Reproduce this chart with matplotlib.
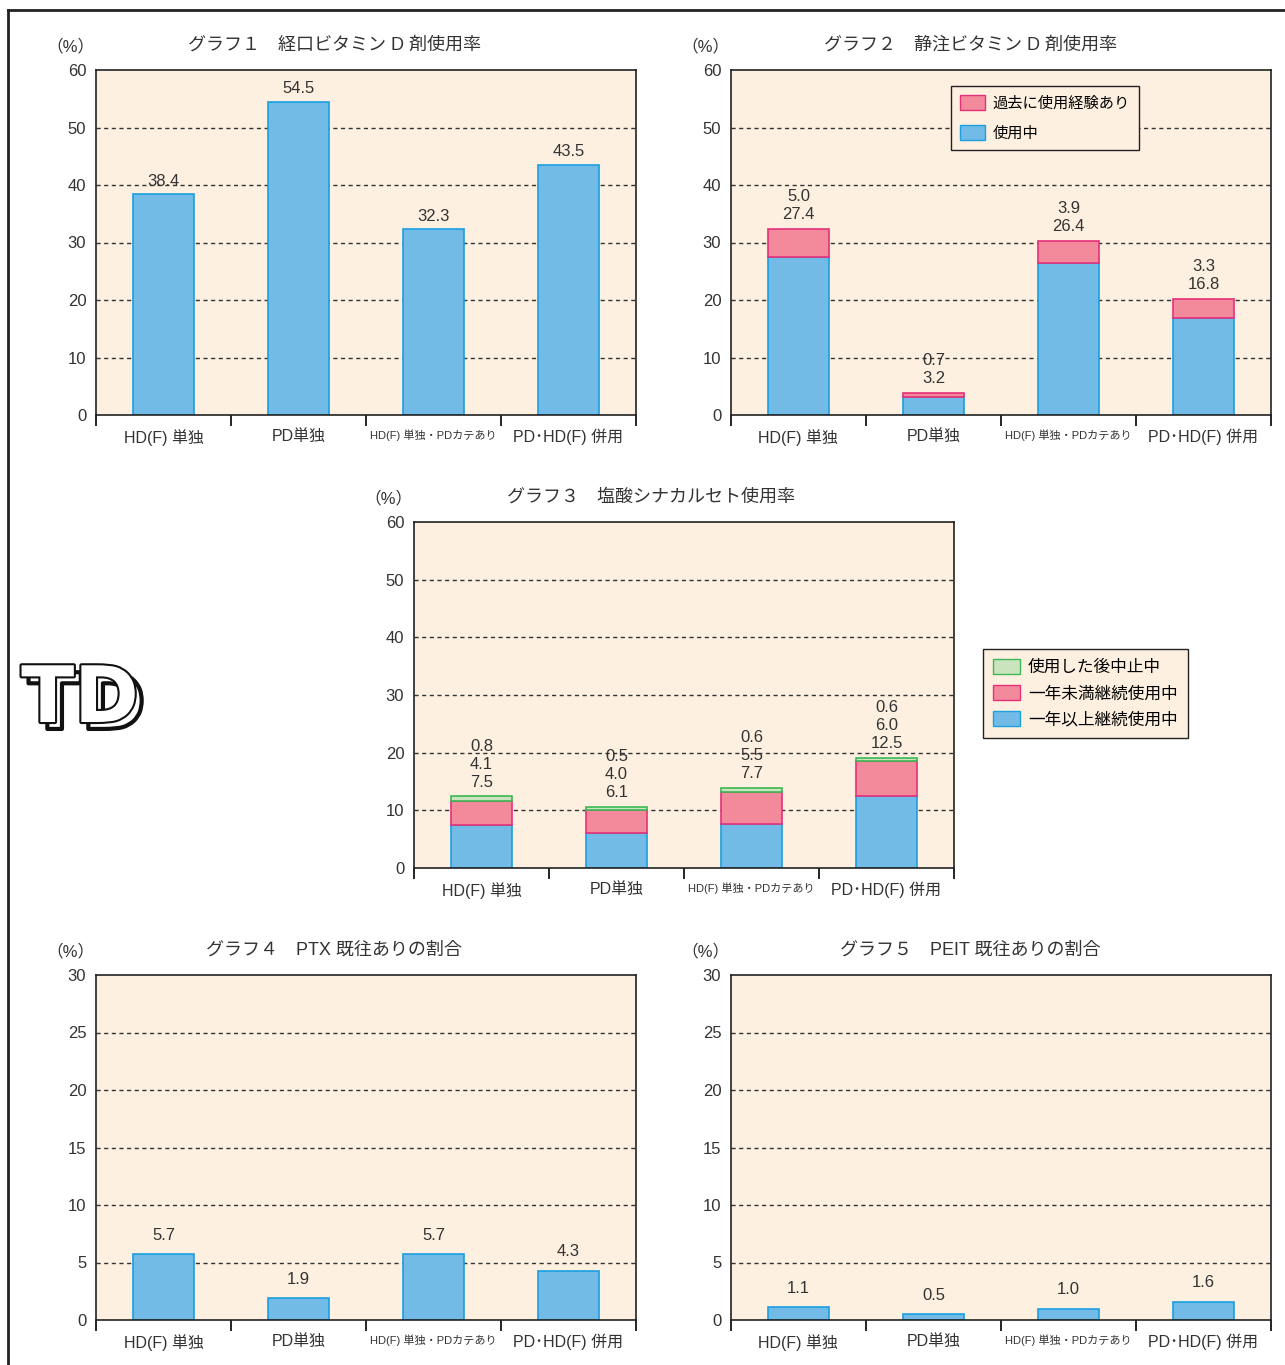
import numpy as np
import matplotlib.pyplot as plt
from matplotlib.patches import Patch
import matplotlib.patheffects as pe

plt.rcParams['font.family'] = ['Liberation Sans', 'Noto Sans CJK JP', 'DejaVu Sans']

# データ
cats = ['HD(F) 単独', 'PD単独', 'HD(F) 単独・PDカテあり', 'PD･HD(F) 併用']
g1 = [38.4, 54.5, 32.3, 43.5]
g2_now = [27.4, 3.2, 26.4, 16.8]
g2_past = [5.0, 0.7, 3.9, 3.3]
g3_long = [7.5, 6.1, 7.7, 12.5]
g3_short = [4.1, 4.0, 5.5, 6.0]
g3_stop = [0.8, 0.5, 0.6, 0.6]
g4 = [5.7, 1.9, 5.7, 4.3]
g5 = [1.1, 0.5, 1.0, 1.6]

W, H = 1285, 1365
BG = '#fdf0e0'
BLUE, BLUE_E = '#72bbe6', '#1a9fe0'
PINK, PINK_E = '#f28a9c', '#e62f78'
GREEN, GREEN_E = '#cbe4c0', '#3cb853'
TXT = '#333333'

fig = plt.figure(figsize=(W / 100, H / 100), dpi=100)

# 外枠
fig.add_artist(plt.Line2D([8 / W, 8 / W], [0, 1 - 10 / H], color='#222', lw=2, transform=fig.transFigure))
fig.add_artist(plt.Line2D([8 / W, 1], [1 - 10 / H, 1 - 10 / H], color='#222', lw=2, transform=fig.transFigure))


def make_ax(l, t, r, b, ymax, step, title, tx):
    ax = fig.add_axes([l / W, 1 - b / H, (r - l) / W, (b - t) / H])
    ax.set_facecolor(BG)
    ax.set_xlim(0, 4)
    ax.set_ylim(0, ymax)
    ax.set_yticks(np.arange(0, ymax + 1, step))
    for y in np.arange(step, ymax, step):
        ax.axhline(y, color='#333', lw=1, ls=(0, (3, 2.5)), zorder=0)
    ax.set_xticks([0.5, 1.5, 2.5, 3.5])
    ax.set_xticklabels(cats)
    ax.set_xticks([0, 1, 2, 3, 4], minor=True)
    ax.tick_params(axis='x', which='major', length=0, pad=10, labelsize=11.5, labelcolor=TXT)
    ax.tick_params(axis='x', which='minor', length=8, width=1.2, direction='out')
    ax.tick_params(axis='y', length=0, pad=7, labelsize=12, labelcolor=TXT)
    ax.get_xticklabels()[2].set_fontsize(8)
    for s in ax.spines.values():
        s.set_linewidth(1.2)
        s.set_color('#222')
    fig.text((l - 26) / W, 1 - (t - 24) / H, '（%）', ha='center', va='center', fontsize=12, color=TXT)
    fig.text(tx / W, 1 - (t - 25) / H, title, ha='center', va='center', fontsize=13, color=TXT)
    return ax


x = np.arange(4) + 0.5
bw = 0.45

# グラフ1
ax1 = make_ax(96, 70, 636, 415, 60, 10, 'グラフ１　経口ビタミン D 剤使用率', 334)
ax1.bar(x, g1, bw, color=BLUE, edgecolor=BLUE_E, lw=1.2, zorder=2)
for xi, v in zip(x, g1):
    ax1.annotate(f'{v:.1f}', (xi, v), xytext=(0, 4), textcoords='offset points',
                 ha='center', va='bottom', fontsize=12, color=TXT)

# グラフ2
ax2 = make_ax(731, 70, 1271, 415, 60, 10, 'グラフ２　静注ビタミン D 剤使用率', 970)
ax2.bar(x, g2_now, bw, color=BLUE, edgecolor=BLUE_E, lw=1.2, zorder=2)
ax2.bar(x, g2_past, bw, bottom=g2_now, color=PINK, edgecolor=PINK_E, lw=1.2, zorder=2)
for xi, a, b in zip(x, g2_now, g2_past):
    ax2.annotate(f'{b:.1f}\n{a:.1f}', (xi, a + b), xytext=(0, 5), textcoords='offset points',
                 ha='center', va='bottom', fontsize=12, color=TXT, linespacing=1.25)
ax2.legend(handles=[Patch(facecolor=PINK, edgecolor=PINK_E, label='過去に使用経験あり'),
                    Patch(facecolor=BLUE, edgecolor=BLUE_E, label='使用中')],
           loc='upper left', bbox_to_anchor=((951 - 731) / 540, 1 - (86 - 70) / 345),
           borderaxespad=0, frameon=True, fancybox=False, edgecolor='#222', facecolor=BG,
           framealpha=1, fontsize=11, handlelength=1.6, handleheight=1.1,
           labelspacing=0.95, borderpad=0.6, handletextpad=0.5)

# グラフ3
ax3 = make_ax(414, 522, 954, 868, 60, 10, 'グラフ３　塩酸シナカルセト使用率', 651)
b2 = np.array(g3_long) + np.array(g3_short)
ax3.bar(x, g3_long, bw, color=BLUE, edgecolor=BLUE_E, lw=1.2, zorder=2)
ax3.bar(x, g3_short, bw, bottom=g3_long, color=PINK, edgecolor=PINK_E, lw=1.2, zorder=2)
ax3.bar(x, g3_stop, bw, bottom=b2, color=GREEN, edgecolor=GREEN_E, lw=1.2, zorder=2)
for xi, a, b, c in zip(x, g3_long, g3_short, g3_stop):
    ax3.annotate(f'{c:.1f}\n{b:.1f}\n{a:.1f}', (xi, a + b + c), xytext=(0, 5), textcoords='offset points',
                 ha='center', va='bottom', fontsize=12, color=TXT, linespacing=1.25)
ax3.legend(handles=[Patch(facecolor=GREEN, edgecolor=GREEN_E, label='使用した後中止中'),
                    Patch(facecolor=PINK, edgecolor=PINK_E, label='一年未満継続使用中'),
                    Patch(facecolor=BLUE, edgecolor=BLUE_E, label='一年以上継続使用中')],
           loc='upper left', bbox_to_anchor=((983 - 414) / 540, 1 - (649 - 522) / 346),
           borderaxespad=0, frameon=True, fancybox=False, edgecolor='#222', facecolor=BG,
           framealpha=1, fontsize=12, handlelength=1.6, handleheight=1.0,
           labelspacing=0.6, borderpad=0.6, handletextpad=0.5)

# グラフ4
ax4 = make_ax(96, 975, 636, 1320, 30, 5, 'グラフ４　PTX 既往ありの割合', 334)
ax4.bar(x, g4, bw, color=BLUE, edgecolor=BLUE_E, lw=1.2, zorder=2)
for xi, v in zip(x, g4):
    ax4.annotate(f'{v:.1f}', (xi, v), xytext=(0, 8), textcoords='offset points',
                 ha='center', va='bottom', fontsize=12, color=TXT)

# グラフ5
ax5 = make_ax(731, 975, 1271, 1320, 30, 5, 'グラフ５　PEIT 既往ありの割合', 970)
ax5.bar(x, g5, bw, color=BLUE, edgecolor=BLUE_E, lw=1.2, zorder=2)
for xi, v in zip(x, g5):
    ax5.annotate(f'{v:.1f}', (xi, v), xytext=(0, 8), textcoords='offset points',
                 ha='center', va='bottom', fontsize=12, color=TXT)

# ロゴ
fig.text(80 / W, 1 - 700 / H, 'TD', ha='center', va='center', fontsize=56, fontweight='black',
         family='DejaVu Sans', color='white',
         path_effects=[pe.Stroke(linewidth=3, foreground='#111', offset=(5, -5)),
                       pe.withStroke(linewidth=3, foreground='#111')])

plt.savefig('out.png', dpi=100)
